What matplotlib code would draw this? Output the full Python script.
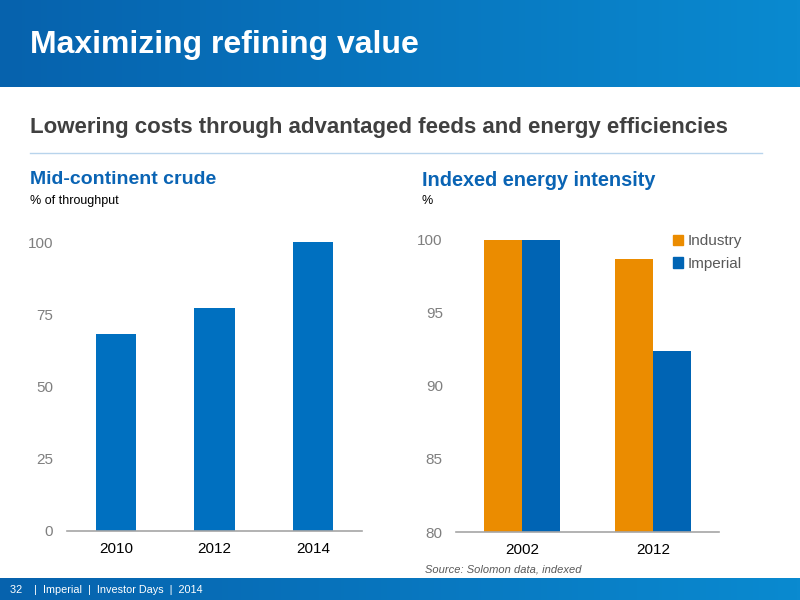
import numpy as np
import matplotlib.pyplot as plt
from matplotlib.patches import Patch
from matplotlib.colors import LinearSegmentedColormap

# data
crude_years = ["2010", "2012", "2014"]
crude_share = [68, 77, 100]

energy_years = ["2002", "2012"]
industry = [100, 98.7]
imperial = [100, 92.4]

blue = "#0070c0"
dark_blue = "#0064b4"
orange = "#eb8c00"
title_blue = "#0a64b4"
grey = "#7f7f7f"

plt.rcParams['font.family'] = ['Liberation Sans', 'DejaVu Sans']

fig = plt.figure(figsize=(8, 6), dpi=100)

# header band with a gradient
grad = np.linspace(0, 1, 256).reshape(1, -1)
cm = LinearSegmentedColormap.from_list("hdr", ["#0662ad", "#0a8ad0"])
hdr = fig.add_axes([0, 1 - 87 / 600, 1, 87 / 600])
hdr.imshow(grad, aspect="auto", cmap=cm, extent=[0, 1, 0, 1])
hdr.axis("off")
fig.text(30 / 800, 1 - 45 / 600, "Maximizing refining value", color="white",
         fontsize=23, fontweight="bold", va="center", ha="left")

# footer band
ftr = fig.add_axes([0, 0, 1, 22 / 600])
ftr.imshow(grad, aspect="auto", cmap=cm, extent=[0, 1, 0, 1])
ftr.axis("off")
fig.text(10 / 800, 1 - 590 / 600, "32    |  Imperial  |  Investor Days  |  2014",
         color="white", fontsize=7.8, va="center", ha="left")

# subtitle and rule
fig.text(30 / 800, 1 - 127 / 600,
         "Lowering costs through advantaged feeds and energy efficiencies",
         color="#404040", fontsize=16, fontweight="bold", va="center", ha="left")
fig.add_artist(plt.Line2D([30 / 800, 762 / 800], [1 - 153 / 600, 1 - 153 / 600],
                          color="#b8d4ec", lw=1))

# chart titles
fig.text(30 / 800, 1 - 180 / 600, "Mid-continent crude", color=title_blue,
         fontsize=14, fontweight="bold", va="center", ha="left")
fig.text(30 / 800, 1 - 201 / 600, "% of throughput", color="black",
         fontsize=9, va="center", ha="left")
fig.text(422 / 800, 1 - 180 / 600, "Indexed energy intensity", color=title_blue,
         fontsize=14.3, fontweight="bold", va="center", ha="left")
fig.text(422 / 800, 1 - 201 / 600, "%", color="black",
         fontsize=9, va="center", ha="left")

# left chart
ax1 = fig.add_axes([67 / 800, 1 - 531 / 600, 295 / 800, 289 / 600])
x1 = np.arange(len(crude_years))
ax1.bar(x1, crude_share, width=0.41, color=blue)
ax1.set_xlim(-0.5, len(crude_years) - 0.5)
ax1.set_ylim(0, 100)
ax1.set_yticks([0, 25, 50, 75, 100])
ax1.set_xticks(x1)
ax1.set_xticklabels(crude_years)

# right chart
ax2 = fig.add_axes([456 / 800, 1 - 532 / 600, 263 / 800, 292 / 600])
x2 = np.arange(len(energy_years))
w = 0.29
ax2.bar(x2 - w / 2, industry, width=w, color=orange, label="Industry")
ax2.bar(x2 + w / 2, imperial, width=w, color=dark_blue, label="Imperial")
ax2.set_xlim(-0.5, len(energy_years) - 0.5)
ax2.set_ylim(80, 100)
ax2.set_yticks([80, 85, 90, 95, 100])
ax2.set_xticks(x2)
ax2.set_xticklabels(energy_years)

for ax, ypad in ((ax1, 10), (ax2, 9.5)):
    for s in ("top", "right", "left"):
        ax.spines[s].set_visible(False)
    ax.spines["bottom"].set_color("#a6a6a6")
    ax.spines["bottom"].set_linewidth(1.2)
    ax.tick_params(axis="y", length=0, pad=ypad, labelsize=11, labelcolor=grey)
    ax.tick_params(axis="x", length=0, pad=8, labelsize=11, labelcolor="black")

handles = [Patch(color=orange), Patch(color=dark_blue)]
leg = ax2.legend(handles, ["Industry", "Imperial"], loc="upper left",
                 bbox_to_anchor=(0.8, 1.04), frameon=False, fontsize=11,
                 handlelength=0.7, handleheight=0.7, handletextpad=0.3,
                 labelspacing=0.55, borderaxespad=0)
for t in leg.get_texts():
    t.set_color("#595959")

fig.text(425 / 800, 1 - 569 / 600, "Source: Solomon data, indexed", color="#595959",
         fontsize=8, style="italic", va="center", ha="left")

plt.savefig("out.png", dpi=100)
